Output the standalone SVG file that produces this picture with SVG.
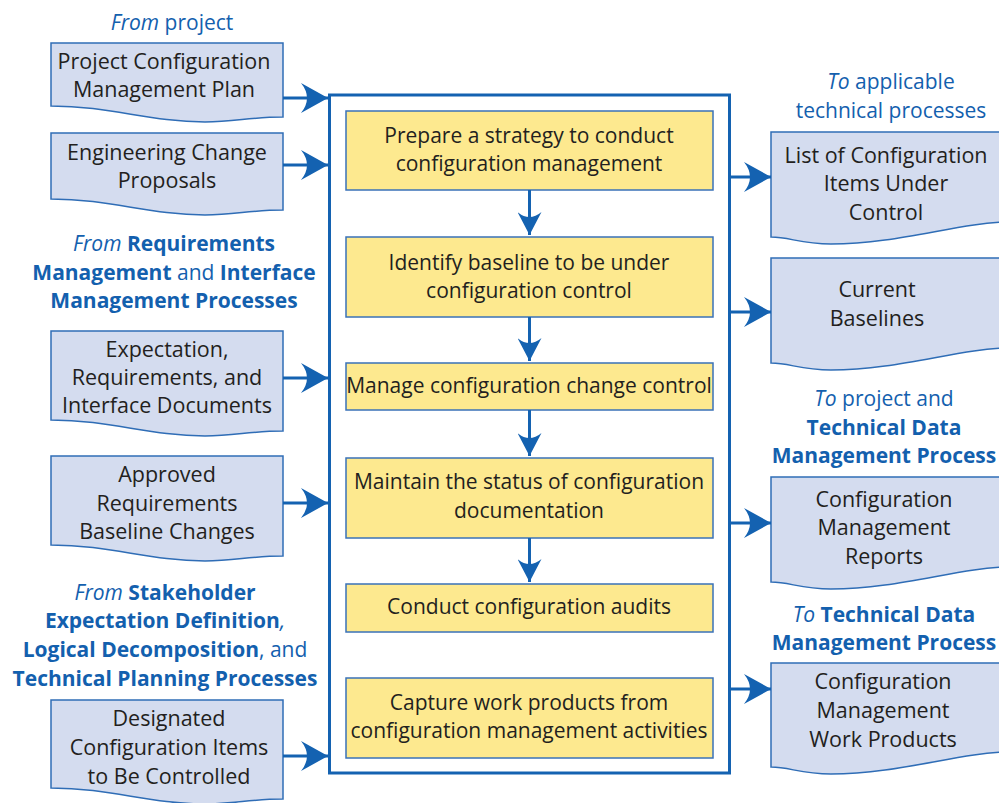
<svg xmlns="http://www.w3.org/2000/svg" width="999" height="803" viewBox="0 0 999 803">
<style>
text{font-family:"Open Sans","Noto Sans","Liberation Sans",sans-serif;font-size:21px;fill:#231f20;text-anchor:middle}
.d{font-size:21.5px}
.h{fill:#1360ae}
.b{font-weight:bold}
.i{font-style:italic}
.doc{fill:#d4dcef;stroke:#2f6db6;stroke-width:1.5}
.box{fill:#fde98f;stroke:#3a72b8;stroke-width:1.5}
.con{stroke:#1462b1;stroke-width:3;fill:none}
</style>
<defs>
<marker id="ah" markerUnits="userSpaceOnUse" viewBox="0 0 27 30" refX="27" refY="15" markerWidth="27" markerHeight="30" orient="auto"><path d="M27,15 L0,0 Q12,15 0,30 Z" fill="#1462b1"/></marker>
<marker id="as" markerUnits="userSpaceOnUse" viewBox="0 0 23 24" refX="23" refY="12" markerWidth="23" markerHeight="24" orient="auto"><path d="M23,12 L0,0 Q10,12 0,24 Z" fill="#1462b1"/></marker>
</defs>
<rect width="999" height="803" fill="#fff"/>
<g id="headings">
<text class="h" x="172" y="30"><tspan class="i">From</tspan> project</text>
<text class="h" x="174" y="251"><tspan class="i">From</tspan> <tspan class="b">Requirements</tspan></text>
<text class="h" x="174" y="280"><tspan class="b">Management</tspan> and <tspan class="b">Interface</tspan></text>
<text class="h b" x="174" y="308">Management Processes</text>
<text class="h" x="165" y="600"><tspan class="i">From</tspan> <tspan class="b">Stakeholder</tspan></text>
<text class="h" x="165" y="628"><tspan class="b">Expectation Definition</tspan><tspan class="i">,</tspan></text>
<text class="h" x="165" y="657"><tspan class="b">Logical Decomposition</tspan>, and</text>
<text class="h b" x="165" y="686">Technical Planning Processes</text>
<text class="h" x="891" y="89"><tspan class="i">To</tspan> applicable</text>
<text class="h" x="891" y="118">technical processes</text>
<text class="h" x="884" y="406"><tspan class="i">To</tspan> project and</text>
<text class="h b" x="884" y="435">Technical Data</text>
<text class="h b" x="884" y="463">Management Process</text>
<text class="h" x="884" y="622"><tspan class="i">To</tspan> <tspan class="b">Technical Data</tspan></text>
<text class="h b" x="884" y="650">Management Process</text>
</g>
<g id="in1"><path class="doc" d="M51,43 H283 V117 C250,117 235,122 205,122 C150,122 110,106 51,106 Z"/><text class="d" x="164" y="69">Project Configuration</text><text class="d" x="164" y="97">Management Plan</text></g>
<g id="in2"><path class="doc" d="M51,133 H283 V210 C250,210 235,215 205,215 C150,215 110,199 51,199 Z"/><text class="d" x="167" y="160">Engineering Change</text><text class="d" x="167" y="188">Proposals</text></g>
<g id="in3"><path class="doc" d="M51,331 H283 V431 C250,431 235,436 205,436 C150,436 110,420 51,420 Z"/><text class="d" x="167" y="357">Expectation,</text><text class="d" x="167" y="385">Requirements, and</text><text class="d" x="167" y="413">Interface Documents</text></g>
<g id="in4"><path class="doc" d="M51,456 H283 V556 C250,556 235,561 205,561 C150,561 110,545 51,545 Z"/><text class="d" x="167" y="482">Approved</text><text class="d" x="167" y="511">Requirements</text><text class="d" x="167" y="539">Baseline Changes</text></g>
<g id="in5"><path class="doc" d="M51,700 H283 V799 C250,799 235,804 205,804 C150,804 110,788 51,788 Z"/><text class="d" x="169" y="726">Designated</text><text class="d" x="169" y="755">Configuration Items</text><text class="d" x="169" y="784">to Be Controlled</text></g>
<g id="out1"><path class="doc" d="M771,132 H1010 V222 C960,222 900,244 831,244 C800,244 790,237 771,237 Z"/><text class="d" x="886" y="163">List of Configuration</text><text class="d" x="886" y="191">Items Under</text><text class="d" x="886" y="220">Control</text></g>
<g id="out2"><path class="doc" d="M771,258 H1010 V348 C960,348 900,370 831,370 C800,370 790,363 771,363 Z"/><text class="d" x="877" y="297">Current</text><text class="d" x="877" y="326">Baselines</text></g>
<g id="out3"><path class="doc" d="M771,477 H1010 V567 C960,567 900,589 831,589 C800,589 790,582 771,582 Z"/><text class="d" x="884" y="507">Configuration</text><text class="d" x="884" y="535">Management</text><text class="d" x="884" y="564">Reports</text></g>
<g id="out4"><path class="doc" d="M771,663 H1010 V752 C960,752 900,774 831,774 C800,774 790,767 771,767 Z"/><text class="d" x="883" y="689">Configuration</text><text class="d" x="883" y="718">Management</text><text class="d" x="883" y="747">Work Products</text></g>
<g id="process">
<rect class="con" x="329.5" y="95" width="400" height="678"/>
<g id="s1"><rect class="box" x="346" y="111" width="367" height="79"/><text x="529" y="143">Prepare a strategy to conduct</text><text x="529" y="171">configuration  management</text></g>
<g id="s2"><rect class="box" x="346" y="237" width="367" height="80"/><text x="529" y="270">Identify baseline to be under</text><text x="529" y="298">configuration control</text></g>
<g id="s3"><rect class="box" x="346" y="363" width="367" height="47"/><text x="529" y="393">Manage configuration change control</text></g>
<g id="s4"><rect class="box" x="346" y="458" width="367" height="80"/><text x="529" y="489">Maintain the status of configuration</text><text x="529" y="518">documentation</text></g>
<g id="s5"><rect class="box" x="346" y="584" width="367" height="48"/><text x="529" y="614">Conduct configuration audits</text></g>
<g id="s6"><rect class="box" x="346" y="678" width="367" height="80"/><text x="529" y="710">Capture work products from</text><text x="529" y="738">configuration management activities</text></g>
</g>
<g id="connectors">
<line class="con" x1="283" y1="98" x2="328" y2="98" marker-end="url(#ah)"/>
<line class="con" x1="283" y1="165" x2="328" y2="165" marker-end="url(#ah)"/>
<line class="con" x1="283" y1="378" x2="328" y2="378" marker-end="url(#ah)"/>
<line class="con" x1="283" y1="503" x2="328" y2="503" marker-end="url(#ah)"/>
<line class="con" x1="283" y1="756" x2="328" y2="756" marker-end="url(#ah)"/>
<line class="con" x1="729" y1="177" x2="771" y2="177" marker-end="url(#ah)"/>
<line class="con" x1="729" y1="312" x2="771" y2="312" marker-end="url(#ah)"/>
<line class="con" x1="729" y1="523" x2="771" y2="523" marker-end="url(#ah)"/>
<line class="con" x1="729" y1="689" x2="771" y2="689" marker-end="url(#ah)"/>
<line class="con" x1="529.5" y1="190" x2="529.5" y2="235" marker-end="url(#as)"/>
<line class="con" x1="529.5" y1="317" x2="529.5" y2="361" marker-end="url(#as)"/>
<line class="con" x1="529.5" y1="410" x2="529.5" y2="456" marker-end="url(#as)"/>
<line class="con" x1="529.5" y1="538" x2="529.5" y2="582" marker-end="url(#as)"/>
</g>
</svg>
